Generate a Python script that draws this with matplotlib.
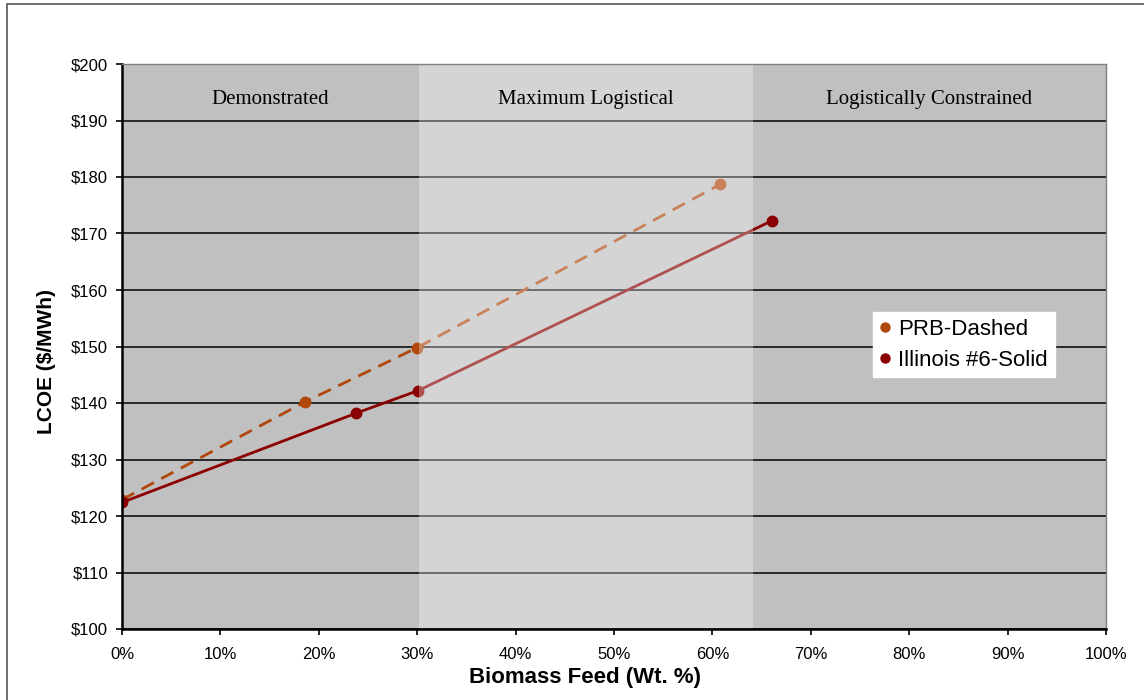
import matplotlib
matplotlib.use("Agg")
import matplotlib.pyplot as plt
from matplotlib.patches import Rectangle
from matplotlib.lines import Line2D
from matplotlib.ticker import FuncFormatter, MultipleLocator

# LCOE vs. biomass co-feed fraction for two coal types
prb_biomass = [0.0, 18.6, 30.0, 60.8]
prb_lcoe = [122.9, 140.2, 149.8, 178.7]
il6_biomass = [0.0, 23.8, 30.1, 66.1]
il6_lcoe = [122.4, 138.2, 142.2, 172.3]

series_names = ["PRB-Dashed", "Illinois #6-Solid"]
region_names = ["Demonstrated", "Maximum Logistical", "Logistically Constrained"]
region_bounds = [0.0, 30.2, 64.1, 100.0]

plt.rcParams["font.family"] = ["Liberation Sans", "DejaVu Sans"]

fig = plt.figure(figsize=(11.44, 7.00), dpi=100)
fig.patch.set_facecolor("white")

# outer chart frame
fig.patches.append(Rectangle((7 / 1144, -0.05), 1.2, 1 - 4 / 700 + 0.05,
                             transform=fig.transFigure, fill=False,
                             edgecolor="#555555", linewidth=1.2, zorder=0))

ax = fig.add_axes([122 / 1144, 1 - 629 / 700, 984 / 1144, 565 / 700])
ax.set_facecolor("#C0C0C0")

prb_color = "#B0480C"
il6_color = "#8B0000"

ax.plot(prb_biomass, prb_lcoe, color=prb_color, lw=2.0, dashes=(5.0, 3.0),
        marker="o", ms=7.5, zorder=3)
ax.plot(il6_biomass, il6_lcoe, color=il6_color, lw=2.0, ls="-",
        marker="o", ms=7.5, zorder=3)

# lighter translucent band for the middle region
ax.axvspan(region_bounds[1], region_bounds[2], color="white", alpha=0.32,
           lw=0, zorder=4)

for i, name in enumerate(region_names):
    xc = (region_bounds[i] + region_bounds[i + 1]) / 2
    ax.text(xc, 193.8, name, ha="center", va="center", fontsize=15,
            family=["Liberation Serif", "DejaVu Serif"], zorder=5)

ax.set_xlim(0, 100)
ax.set_ylim(100, 200)
ax.xaxis.set_major_locator(MultipleLocator(10))
ax.yaxis.set_major_locator(MultipleLocator(10))
ax.xaxis.set_major_formatter(FuncFormatter(lambda v, p: f"{v:.0f}%"))
ax.yaxis.set_major_formatter(FuncFormatter(lambda v, p: f"${v:.0f}"))
ax.tick_params(axis="both", direction="out", length=4, width=1.2,
               labelsize=12, color="black")
ax.tick_params(axis="y", pad=6)
ax.tick_params(axis="x", pad=9)

ax.set_axisbelow(True)
ax.grid(axis="y", color="black", lw=1.1)
ax.grid(axis="x", visible=False)

for side in ["left", "bottom"]:
    ax.spines[side].set_color("black")
    ax.spines[side].set_linewidth(1.8)
    ax.spines[side].set_zorder(10)
for side in ["top", "right"]:
    ax.spines[side].set_color("#808080")
    ax.spines[side].set_linewidth(1.0)
    ax.spines[side].set_zorder(10)

ax.set_ylabel("LCOE ($/MWh)", fontsize=15, fontweight="bold")
ax.yaxis.set_label_coords(-0.067, 0.473)
ax.set_xlabel("Biomass Feed (Wt. %)", fontsize=16, fontweight="bold")
ax.xaxis.set_label_coords(0.471, -0.068)

handles = [Line2D([], [], ls="none", marker="o", ms=6.5, color=prb_color),
           Line2D([], [], ls="none", marker="o", ms=6.5, color=il6_color)]
leg = ax.legend(handles, series_names, loc="upper left",
                bbox_to_anchor=(0.763, 0.561), fontsize=16, frameon=True,
                fancybox=False, framealpha=1, facecolor="white",
                edgecolor="white", handlelength=0.5, handletextpad=0.35,
                borderpad=0.3, labelspacing=0.45, borderaxespad=0)
leg.set_zorder(8)

fig.savefig("out.png", dpi=100, facecolor="white")
